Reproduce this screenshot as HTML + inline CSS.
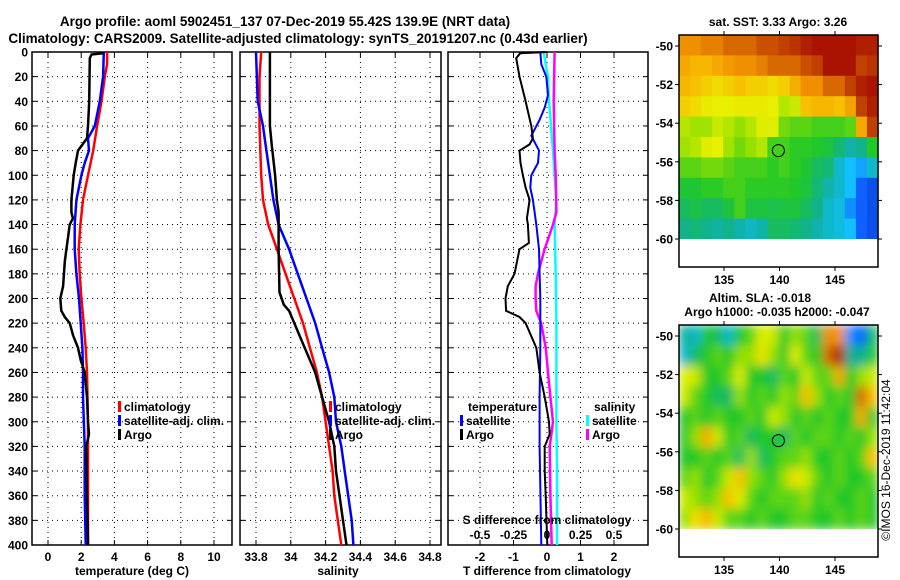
<!DOCTYPE html>
<html><head><meta charset="utf-8"><style>
body{margin:0;background:#fff;}
svg{display:block;font-family:"Liberation Sans",Arial,sans-serif;font-weight:bold;}
</style></head><body>
<svg id="chart" width="900" height="580" viewBox="0 0 900 580" xmlns="http://www.w3.org/2000/svg">
<defs>
<filter id="blur" x="0" y="0" width="1" height="1"><feGaussianBlur stdDeviation="5"/></filter>
<clipPath id="clipSla"><rect x="679" y="325" width="199" height="204"/></clipPath>
</defs>
<text x="285" y="26" font-size="13.5" text-anchor="middle">Argo profile: aoml 5902451_137 07-Dec-2019 55.42S 139.9E (NRT data)</text>
<text x="298" y="43" font-size="13.5" text-anchor="middle">Climatology: CARS2009. Satellite-adjusted climatology: synTS_20191207.nc (0.43d earlier)</text>
<g id="layer"></g>
</svg>
<script>
// ---------- data ----------
var depthLevels = [0,20,40,60,80,100,120,140,160,180,200,220,240,260,280,300,320,340,360,380,400];
var tempTicks = [0,2,4,6,8,10];
var salTicks = [33.8,34,34.2,34.4,34.6,34.8];
var tdiffTicks = [-2,-1,0,1,2];
var sdiffTicks = [-0.5,-0.25,0,0.25,0.5];
var sdiffTickLabels = ["-0.5","-0.25","0","0.25","0.5"];

var tClimDepth = [0,10,20,40,60,80,100,120,140,160,180,200,220,240,260,300,340,400];
var tClimVal   = [3.56,3.56,3.42,3.22,2.96,2.72,2.41,2.11,1.95,1.85,1.91,2.01,2.15,2.27,2.35,2.41,2.41,2.41];
var tSatDepth = [0,20,40,60,70,80,90,100,120,140,160,180,200,220,240,260,280,320,360,400];
var tSatVal   = [3.36,3.32,3.12,2.82,2.41,2.47,2.21,2.01,1.71,1.61,1.61,1.71,1.87,1.97,2.07,2.11,2.11,2.21,2.21,2.27];
var tArgoDepth = [0,1,2,5,40,60,70,80,90,100,120,130,135,140,150,160,170,190,200,210,215,220,230,240,250,260,280,300,310,320,360,400];
var tArgoVal   = [3.3,3.3,2.62,2.52,2.48,2.41,2.35,1.81,1.67,1.55,1.41,1.41,1.5,1.31,1.21,1.11,1.01,0.91,0.74,0.8,1.01,1.31,1.51,1.81,1.97,2.21,2.35,2.41,2.47,2.31,2.35,2.41];

var sClimDepth = [0,20,60,100,120,140,160,180,200,220,240,260,280,300,320,340,360,380,400];
var sClimVal   = [33.83,33.82,33.82,33.83,33.84,33.87,33.92,33.97,34.02,34.07,34.11,34.15,34.18,34.20,34.22,34.24,34.25,34.27,34.29];
var sSatDepth = [0,40,60,80,100,120,140,160,180,200,220,240,260,280,300,320,340,360,380,400];
var sSatVal   = [33.80,33.81,33.84,33.86,33.88,33.90,33.93,33.99,34.04,34.09,34.14,34.18,34.22,34.25,34.26,34.29,34.31,34.33,34.35,34.36];
var sArgoDepth = [0,60,75,100,120,130,160,195,205,210,220,240,260,280,300,320,340,360,380,400];
var sArgoVal   = [33.88,33.88,33.89,33.91,33.92,33.93,33.93,33.935,33.96,33.99,34.02,34.08,34.14,34.18,34.22,34.25,34.26,34.28,34.30,34.32];

var dTSatDepth = [0,10,20,35,45,55,68,80,90,100,110,120,140,160,180,200,240,280,320,400];
var dTSatVal   = [-0.2,-0.17,-0.02,0.03,-0.07,-0.22,-0.47,-0.24,-0.27,-0.47,-0.5,-0.42,-0.32,-0.24,-0.22,-0.2,-0.2,-0.22,-0.22,-0.17];
var dTArgoDepth = [0,1,5,20,40,60,70,75,80,90,100,110,120,135,140,155,160,180,190,200,210,215,220,240,260,280,300,310,320,340,360,400];
var dTArgoVal   = [-0.02,-0.8,-0.92,-0.82,-0.64,-0.47,-0.42,-0.52,-0.82,-0.79,-0.72,-0.64,-0.52,-0.6,-0.57,-0.54,-0.82,-0.97,-1.17,-1.24,-1.22,-0.82,-0.64,-0.32,-0.22,-0.07,0.06,0.08,-0.07,-0.07,-0.04,0.01];
var dSSatDepth = [0,10,20,40,60,80,100,120,140,180,220,260,300,340,400];
var dSSatVal   = [-0.025,-0.01,0.0075,0.015,0.03,0.045,0.057,0.07,0.057,0.065,0.07,0.07,0.07,0.075,0.075];
var dSArgoDepth = [0,40,80,100,130,140,160,180,190,200,210,220,240,260,280,300,310,320,360,400];
var dSArgoVal   = [0.057,0.05,0.057,0.065,0.07,0.045,-0.018,-0.068,-0.085,-0.085,-0.08,-0.043,-0.01,0.0075,0.025,0.045,0.033,0.02,0.025,0.035];

var lonTicks = [135,140,145];
var latTicks = [-50,-52,-54,-56,-58,-60];
var sstGrid = [
[.8,.8,.82,.82,.85,.85,.85,.88,.88,.9,.92,.95,.97,.97,.97,.97,.95,.95],
[.75,.72,.72,.75,.78,.8,.8,.82,.85,.85,.85,.88,.9,.97,.97,.97,.9,.92],
[.72,.7,.68,.66,.68,.7,.68,.68,.66,.68,.74,.8,.8,.85,.85,.9,.95,.97],
[.68,.66,.64,.63,.63,.64,.64,.64,.63,.58,.6,.7,.72,.72,.7,.76,.9,.95],
[.58,.56,.56,.6,.58,.55,.58,.62,.62,.52,.5,.5,.48,.48,.48,.5,.75,.9],
[.56,.58,.62,.63,.56,.52,.55,.58,.48,.48,.46,.46,.45,.43,.38,.33,.36,.45],
[.5,.5,.52,.52,.5,.48,.48,.48,.46,.48,.46,.44,.4,.38,.3,.25,.22,.3],
[.44,.44,.46,.46,.48,.48,.46,.46,.46,.46,.45,.43,.38,.33,.3,.25,.15,.1],
[.4,.42,.4,.4,.43,.48,.43,.43,.42,.43,.43,.4,.36,.3,.28,.2,.15,.1],
[.36,.38,.36,.34,.36,.33,.31,.33,.4,.4,.38,.36,.33,.3,.28,.25,.15,.1]];
var slaGrid = [
[.35,.3,.45,.4,.3,.45,.5,.62,.6,.45,.55,.5,.4,.8,.8,.2,.15,.4],
[.3,.4,.45,.5,.45,.55,.55,.65,.55,.45,.62,.5,.45,.85,.95,.35,.35,.45],
[.62,.6,.45,.45,.5,.62,.45,.45,.4,.5,.45,.6,.5,.5,.75,.45,.55,.6],
[.6,.5,.45,.4,.4,.55,.45,.5,.45,.55,.5,.7,.55,.45,.5,.45,.85,.7],
[.45,.5,.45,.5,.45,.45,.5,.45,.6,.55,.45,.5,.45,.5,.45,.45,.75,.45],
[.45,.55,.75,.6,.45,.5,.4,.45,.45,.4,.5,.45,.5,.5,.45,.5,.45,.55],
[.45,.45,.5,.45,.5,.4,.55,.4,.45,.5,.5,.55,.45,.45,.5,.45,.5,.7],
[.5,.55,.45,.5,.6,.7,.55,.5,.45,.55,.65,.6,.5,.45,.5,.45,.45,.5],
[.6,.55,.5,.55,.7,.62,.5,.45,.5,.5,.5,.55,.45,.5,.45,.45,.5,.45],
[.55,.65,.72,.6,.5,.5,.45,.5,.45,.45,.5,.5,.45,.45,.5,.45,.5,.45]];
var argoLon = 139.9, argoLat = -55.42;

// ---------- helpers ----------
var NS = "http://www.w3.org/2000/svg";
var layer = document.getElementById('layer');
function mk(tag, attrs, parent) {
  var e = document.createElementNS(NS, tag);
  for (var k in attrs) e.setAttribute(k, attrs[k]);
  (parent || layer).appendChild(e);
  return e;
}
var TOP = 52, BOT = 545;
function dy(d) { return TOP + d * (BOT - TOP) / 400; }
function tx(t) { return 48 + t * 16.6; }
function sx(s) { return 256 + (s - 33.8) * 174; }
function dtx(v) { return 547 + v * 33.5; }
function dsx(v) { return 547 + v * 134; }

function panelFrame(x0, x1, xticks, xfn, name) {
  var g = mk('g', {});
  
  
  depthLevels.forEach(function (d) {
    if (d > 0 && d < 400) {
      var l = mk('line', {x1: x0, x2: x1, y1: dy(d), y2: dy(d), stroke: '#000', 'stroke-width': 1, 'stroke-dasharray': '1,4'}, g);
      
      
    }
    mk('line', {x1: x0, x2: x0 + 5, y1: dy(d), y2: dy(d), stroke: '#000'}, g);
    mk('line', {x1: x1, x2: x1 - 5, y1: dy(d), y2: dy(d), stroke: '#000'}, g);
  });
  xticks.forEach(function (v) {
    var x = xfn(v);
    var l = mk('line', {x1: x, x2: x, y1: TOP, y2: BOT, stroke: '#000', 'stroke-width': 1, 'stroke-dasharray': '1,4'}, g);
    
    
    mk('line', {x1: x, x2: x, y1: TOP, y2: TOP + 5, stroke: '#000'}, g);
    mk('line', {x1: x, x2: x, y1: BOT, y2: BOT - 5, stroke: '#000'}, g);
  });
  var r = mk('rect', {x: x0, y: TOP, width: x1 - x0, height: BOT - TOP, fill: 'none', stroke: '#000', 'stroke-width': 1.5}, g);
  
  
}
function line(depths, vals, xfn, color, w, name) {
  var pts = depths.map(function (d, i) { return xfn(vals[i]).toFixed(1) + ',' + dy(d).toFixed(1); }).join(' ');
  var p = mk('polyline', {points: pts, fill: 'none', stroke: color, 'stroke-width': w, 'stroke-linejoin': 'miter'});
  
  
}
function text(x, y, s, size, anchor, name, color) {
  var t = mk('text', {x: x, y: y, 'font-size': size, 'text-anchor': anchor || 'start', fill: color || '#000'});
  t.textContent = s;
  
  
  return t;
}
function legendEntry(x, y, color, label, name) {
  var r = mk('rect', {x: x, y: y - 10, width: 3, height: 11, fill: color});
  
  
  text(x + 6, y, label, 12, 'start', name);
}
var TICKY = 561, TITLEY = 575;

// ---------- panel 1: temperature ----------
panelFrame(32, 232, tempTicks, tx, 'temperature-panel');
depthLevels.forEach(function (d) { text(28, dy(d) + 4.5, String(d), 12, 'end', 'depth-tick-label'); });
tempTicks.forEach(function (v) { text(tx(v), TICKY, String(v), 12, 'middle', 'temperature-tick-label'); });
text(132, TITLEY, 'temperature (deg C)', 12, 'middle', 'temperature-axis-title');
line(tClimDepth, tClimVal, tx, '#f00', 2.5, 'temperature-climatology-line');
line(tSatDepth, tSatVal, tx, '#00f', 2.5, 'temperature-satellite-line');
line(tArgoDepth, tArgoVal, tx, '#000', 2.5, 'temperature-argo-line');
legendEntry(118, 411, '#f00', 'climatology', 'legend-climatology');
legendEntry(118, 425, '#00f', 'satellite-adj. clim.', 'legend-satellite-adj');
legendEntry(118, 439, '#000', 'Argo', 'legend-argo');

// ---------- panel 2: salinity ----------
panelFrame(240, 441, salTicks, sx, 'salinity-panel');
salTicks.forEach(function (v) { text(sx(v), TICKY, String(v), 12, 'middle', 'salinity-tick-label'); });
text(338, TITLEY, 'salinity', 12, 'middle', 'salinity-axis-title');
line(sClimDepth, sClimVal, sx, '#f00', 2.5, 'salinity-climatology-line');
line(sSatDepth, sSatVal, sx, '#00f', 2.5, 'salinity-satellite-line');
line(sArgoDepth, sArgoVal, sx, '#000', 2.5, 'salinity-argo-line');
legendEntry(329, 411, '#f00', 'climatology', 'legend-sal-climatology');
legendEntry(329, 425, '#00f', 'satellite-adj. clim.', 'legend-sal-satellite-adj');
legendEntry(329, 439, '#000', 'Argo', 'legend-sal-argo');

// ---------- panel 3: differences ----------
panelFrame(448, 648, tdiffTicks, dtx, 'difference-panel');
tdiffTicks.forEach(function (v) { text(dtx(v), TICKY, String(v), 12, 'middle', 'tdiff-tick-label'); });
text(547, TITLEY, 'T difference from climatology', 12, 'middle', 'tdiff-axis-title');
line(dSSatDepth, dSSatVal, dsx, '#0ff', 2.5, 'sdiff-satellite-line');
line(dSArgoDepth, dSArgoVal, dsx, '#f0f', 2.5, 'sdiff-argo-line');
line(dTSatDepth, dTSatVal, dtx, '#00f', 2, 'tdiff-satellite-line');
line(dTArgoDepth, dTArgoVal, dtx, '#000', 2, 'tdiff-argo-line');
text(547, 524, 'S difference from climatology', 12, 'middle', 'sdiff-axis-title');
sdiffTicks.forEach(function (v, i) { text(dsx(v), 539, sdiffTickLabels[i], 12, 'middle', 'sdiff-tick-label'); });
text(468, 411, 'temperature', 12, 'start', 'legend-temperature-heading');
legendEntry(460, 425, '#00f', 'satellite', 'legend-tdiff-satellite');
legendEntry(460, 439, '#000', 'Argo', 'legend-tdiff-argo');
text(594, 411, 'salinity', 12, 'start', 'legend-salinity-heading');
legendEntry(586, 425, '#0ff', 'satellite', 'legend-sdiff-satellite');
legendEntry(586, 439, '#f0f', 'Argo', 'legend-sdiff-argo');

// ---------- maps ----------
var cstops = [[0,[0,48,192]],[.15,[16,96,255]],[.25,[16,192,255]],[.35,[16,176,150]],[.45,[32,200,40]],[.55,[150,224,0]],[.63,[232,240,0]],[.7,[248,192,0]],[.8,[240,144,0]],[.9,[192,64,0]],[1,[160,0,0]]];
function cmap(v) {
  for (var i = 1; i < cstops.length; i++) {
    if (v <= cstops[i][0]) {
      var a = cstops[i-1], b = cstops[i], f = (v - a[0]) / (b[0] - a[0]);
      var c = a[1].map(function (x, k) { return Math.round(x + (b[1][k] - x) * f); });
      return 'rgb(' + c.join(',') + ')';
    }
  }
  return 'rgb(160,0,0)';
}
var MX0 = 679, MX1 = 878;
function lonX(lon) { return 724 + (lon - 135) * 11.1; }
function drawMap(grid, top, bottom, latY0, name, blur) {
  var latY = function (lat) { return latY0 + (-50 - lat) * 19.3; };
  var g = mk('g', blur ? {'clip-path': 'url(#clipSla)'} : {});
  
  
  var inner = mk('g', blur ? {filter: 'url(#blur)'} : {}, g);
  var dataBottom = latY(-60);
  var rows = grid.length, cols = grid[0].length;
  var ch = (dataBottom - top) / rows, cw = (MX1 - MX0) / cols;
  grid.forEach(function (row, r) {
    row.forEach(function (v, c) {
      var cell = mk('rect', {x: (MX0 + c * cw).toFixed(1), y: (top + r * ch).toFixed(1), width: (cw + 0.6).toFixed(1), height: (ch + 0.6).toFixed(1), fill: cmap(v)}, inner);
      
      
    });
  });
  mk('rect', {x: MX0, y: dataBottom, width: MX1 - MX0, height: bottom - dataBottom + 2, fill: '#fff'});
  var fr = mk('rect', {x: MX0, y: top, width: MX1 - MX0, height: bottom - top, fill: 'none', stroke: '#000', 'stroke-width': 1.5});
  
  
  latTicks.forEach(function (lat) {
    var y = latY(lat);
    mk('line', {x1: MX0 - 4, x2: MX0, y1: y, y2: y, stroke: '#000'});
    mk('line', {x1: MX1, x2: MX1 + 4, y1: y, y2: y, stroke: '#000'});
    text(673, y + 4.5, String(lat), 12, 'end', name + '-lat-label');
  });
  lonTicks.forEach(function (lon) {
    var x = lonX(lon);
    mk('line', {x1: x, x2: x, y1: top - 4, y2: top, stroke: '#000'});
    mk('line', {x1: x, x2: x, y1: bottom, y2: bottom + 4, stroke: '#000'});
    text(x, bottom + 17, String(lon), 12, 'middle', name + '-lon-label');
  });
  var c = mk('circle', {cx: lonX(argoLon), cy: latY(argoLat), r: 6, fill: 'none', stroke: '#000', 'stroke-width': 1});
  
  
}
drawMap(sstGrid, 35, 267, 46, 'sst-map', false);
drawMap(slaGrid, 325, 557, 336, 'sla-map', true);
text(778, 26, 'sat. SST: 3.33 Argo: 3.26', 12, 'middle', 'sst-map-title');
text(760, 302, 'Altim. SLA: -0.018', 12, 'middle', 'sla-map-title');
text(777, 316, 'Argo h1000: -0.035 h2000: -0.047', 12, 'middle', 'sla-argo-heights');
var cr = text(0, 0, '©IMOS 16-Dec-2019 11:42:04', 12, 'middle', 'copyright-timestamp');
cr.setAttribute('font-weight', 'normal');
cr.setAttribute('transform', 'translate(890,460) rotate(-90)');
</script>
</body></html>
